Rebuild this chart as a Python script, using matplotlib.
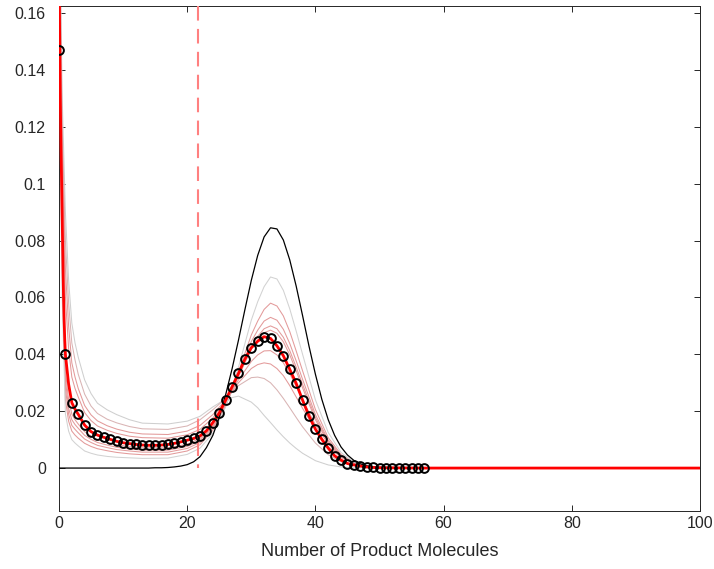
import matplotlib
matplotlib.use("Agg")
import matplotlib.pyplot as plt

# ---------------- data ----------------
# observed distribution (black circles) at integer molecule counts 0..57
obs_x = list(range(0, 58))
obs_y = [0.147, 0.0400, 0.0230, 0.0189, 0.0151, 0.0128, 0.0116, 0.0108, 0.0101, 0.0094,
         0.0089, 0.0086, 0.0083, 0.0081, 0.0080, 0.0080, 0.0081, 0.0083, 0.0087, 0.0092,
         0.0098, 0.0104, 0.0113, 0.0131, 0.0160, 0.0194, 0.0239, 0.0286, 0.0333, 0.0383,
         0.0423, 0.0446, 0.0462, 0.0456, 0.0430, 0.0395, 0.0347, 0.0298, 0.0239, 0.0183,
         0.0137, 0.0101, 0.0070, 0.0043, 0.0028, 0.0016, 0.0011, 0.0007, 0.0004, 0.0002,
         0.0001, 0.0, 0.0, 0.0, 0.0, 0.0, 0.0, 0.0]

# final fit (thick red line)
fit_x = [0, 0.05, 0.1, 0.2, 0.3, 0.4, 0.5, 0.6, 0.7, 0.8, 0.9, 1, 1.5, 2, 2.5, 3, 4, 5, 6, 7, 8, 9,
         10, 11, 12, 13, 14, 15, 16, 17, 18, 19, 20, 21, 22, 23, 24, 25, 26, 27, 28, 29, 30,
         31, 32, 33, 34, 35, 36, 37, 38, 39, 40, 41, 42, 43, 44, 45, 46, 47, 48, 49, 50, 57, 100]
fit_y = [0.200, 0.170, 0.152, 0.130, 0.114, 0.101, 0.088, 0.074, 0.061, 0.052, 0.045, 0.0400,
         0.0295, 0.0230, 0.0207, 0.0189, 0.0151, 0.0128, 0.0116, 0.0108, 0.0101, 0.0094,
         0.0089, 0.0086, 0.0083, 0.0081, 0.0080, 0.0080, 0.0081, 0.0083, 0.0087, 0.0092,
         0.0098, 0.0104, 0.0113, 0.0131, 0.0160, 0.0194, 0.0239, 0.0286, 0.0333, 0.0383,
         0.0423, 0.0446, 0.0462, 0.0456, 0.0430, 0.0395, 0.0347, 0.0298, 0.0239, 0.0183,
         0.0137, 0.0101, 0.0070, 0.0043, 0.0028, 0.0016, 0.0011, 0.0007, 0.0004, 0.0002,
         0.0001, 0.0, 0.0]

# initial guess (thin black line)
init_x = [0, 14, 15, 16, 17, 18, 19, 20, 21, 22, 23, 24, 25, 26, 27, 28, 29, 30, 31, 32, 33,
          34, 35, 36, 37, 38, 39, 40, 41, 42, 43, 44, 45, 46, 47, 48, 49, 50, 51, 57]
init_y = [0.0, 0.0, 0.0001, 0.0001, 0.0002, 0.0004, 0.0007, 0.0012, 0.0022, 0.0040, 0.0072,
          0.0115, 0.0178, 0.0258, 0.0349, 0.0450, 0.0557, 0.0660, 0.0748, 0.0813, 0.0845,
          0.0841, 0.0802, 0.0732, 0.0640, 0.0536, 0.0429, 0.0330, 0.0242, 0.0170, 0.0115,
          0.0074, 0.0046, 0.0027, 0.0015, 0.0008, 0.0004, 0.0002, 0.0001, 0.0]

# intermediate iterations (thin lines)
iter_x = [0, 0.25, 0.5, 1, 1.5, 2, 2.5, 3, 4, 5, 6, 7.5, 9, 11, 13, 17, 20, 22, 24, 26, 28,
          30, 31, 32, 33, 34, 35, 36, 37, 38, 40, 42, 44, 46, 49, 57]
iter_a = [0.30, 0.170, 0.130, 0.090, 0.066, 0.051, 0.044, 0.039, 0.031, 0.0262, 0.0228,
          0.0205, 0.0188, 0.0170, 0.0158, 0.0155, 0.0165, 0.0182, 0.0215, 0.0243, 0.0253,
          0.0232, 0.0212, 0.0185, 0.0160, 0.0134, 0.0110, 0.0088, 0.0069, 0.0052, 0.0026,
          0.0011, 0.0004, 0.0001, 0.0, 0.0]
iter_b = [0.30, 0.160, 0.120, 0.080, 0.058, 0.044, 0.038, 0.033, 0.026, 0.0218, 0.0192,
          0.0172, 0.0159, 0.0146, 0.0138, 0.0136, 0.0148, 0.0170, 0.0205, 0.0245, 0.0290,
          0.0318, 0.0320, 0.0315, 0.0300, 0.0275, 0.0245, 0.0212, 0.0178, 0.0145, 0.0088,
          0.0047, 0.0022, 0.0009, 0.0002, 0.0]
iter_c = [0.30, 0.155, 0.115, 0.070, 0.050, 0.037, 0.032, 0.028, 0.022, 0.0187, 0.0166,
          0.0149, 0.0137, 0.0126, 0.0120, 0.0118, 0.0130, 0.0150, 0.0188, 0.0240, 0.0300,
          0.0350, 0.0364, 0.0370, 0.0366, 0.0350, 0.0325, 0.0290, 0.0250, 0.0210, 0.0135,
          0.0075, 0.0037, 0.0016, 0.0004, 0.0]
iter_d = [0.30, 0.150, 0.110, 0.060, 0.042, 0.032, 0.028, 0.025, 0.0195, 0.0167, 0.0148,
          0.0133, 0.0122, 0.0112, 0.0107, 0.0105, 0.0117, 0.0136, 0.0176, 0.0238, 0.0310,
          0.0375, 0.0398, 0.0412, 0.0413, 0.0398, 0.0370, 0.0332, 0.0287, 0.0240, 0.0152,
          0.0085, 0.0041, 0.0017, 0.0004, 0.0]
iter_e = [0.30, 0.130, 0.090, 0.034, 0.024, 0.019, 0.017, 0.0155, 0.0128, 0.0112, 0.0100,
          0.0090, 0.0082, 0.0075, 0.0071, 0.0071, 0.0084, 0.0104, 0.0150, 0.0225, 0.0322,
          0.0418, 0.0450, 0.0476, 0.0485, 0.0474, 0.0444, 0.0398, 0.0342, 0.0282, 0.0170,
          0.0088, 0.0040, 0.0015, 0.0003, 0.0]
iter_f = [0.30, 0.125, 0.085, 0.031, 0.021, 0.017, 0.0153, 0.0140, 0.0115, 0.0101, 0.0090,
          0.0081, 0.0073, 0.0067, 0.0063, 0.0063, 0.0076, 0.0097, 0.0145, 0.0222, 0.0325,
          0.0428, 0.0463, 0.0490, 0.0500, 0.0490, 0.0460, 0.0413, 0.0355, 0.0294, 0.0178,
          0.0093, 0.0042, 0.0016, 0.0003, 0.0]
iter_g = [0.30, 0.120, 0.080, 0.028, 0.019, 0.015, 0.0136, 0.0124, 0.0102, 0.0090, 0.0080,
          0.0072, 0.0065, 0.0060, 0.0056, 0.0056, 0.0069, 0.0090, 0.0140, 0.0220, 0.0330,
          0.0445, 0.0485, 0.0517, 0.0530, 0.0520, 0.0488, 0.0438, 0.0377, 0.0312, 0.0188,
          0.0098, 0.0044, 0.0017, 0.0003, 0.0]
iter_h = [0.30, 0.110, 0.070, 0.024, 0.0165, 0.013, 0.0116, 0.0105, 0.0087, 0.0076, 0.0068,
          0.0061, 0.0055, 0.0050, 0.0047, 0.0047, 0.0060, 0.0082, 0.0133, 0.0218, 0.0338,
          0.0468, 0.0517, 0.0558, 0.0580, 0.0570, 0.0535, 0.0480, 0.0412, 0.0342, 0.0206,
          0.0107, 0.0048, 0.0018, 0.0003, 0.0]
iter_i = [0.30, 0.100, 0.060, 0.019, 0.013, 0.010, 0.0088, 0.0078, 0.0060, 0.0052, 0.0046,
          0.0041, 0.0038, 0.0036, 0.0034, 0.0035, 0.0048, 0.0070, 0.0122, 0.0215, 0.0355,
          0.0520, 0.0585, 0.0638, 0.0672, 0.0665, 0.0625, 0.0560, 0.0482, 0.0400, 0.0240,
          0.0125, 0.0055, 0.0021, 0.0004, 0.0]
iter_series = [iter_a, iter_b, iter_c, iter_d, iter_e, iter_f, iter_g, iter_h, iter_i]
iter_colors = ["#cfcfcf", "#d9b4b4", "#e39a9a", "#e39a9a", "#e39a9a", "#e39a9a",
               "#e39a9a", "#e39a9a", "#d2d2d2"]

threshold_x = 21.7

x_ticks = [0, 20, 40, 60, 80, 100]
y_ticks = [0, 0.02, 0.04, 0.06, 0.08, 0.1, 0.12, 0.14, 0.16]
y_tick_labels = ["0", "0.02", "0.04", "0.06", "0.08", "0.1", "0.12", "0.14", "0.16"]
x_label = "Number of Product Molecules"

# ---------------- plot ----------------
plt.rcParams["font.family"] = ["Liberation Sans", "DejaVu Sans"]
plt.rcParams["lines.scale_dashes"] = False
txt = "#262626"

fig = plt.figure(figsize=(7.14, 5.69), dpi=100)
ax = fig.add_axes([59 / 714, 1 - 511 / 569, 641 / 714, 505 / 569])

for ys, c in zip(iter_series, iter_colors):
    ax.plot(iter_x, ys, color=c, lw=0.75, zorder=2)

ax.plot(init_x, init_y, color="black", lw=0.9, zorder=3)

ax.plot([threshold_x, threshold_x], [0.1625, 0], color="#ff8080", lw=1.5,
        dashes=(10.5, 6.0), zorder=4)

ax.plot(fit_x, fit_y, color="red", lw=2.0, zorder=5)

ax.plot(obs_x, obs_y, linestyle="none", marker="o", ms=6.3, mfc="none",
        mec="black", mew=1.4, zorder=6)

ax.set_xlim(0, 100)
ax.set_ylim(-0.0151, 0.1625)
ax.set_xticks(x_ticks)
ax.set_xticklabels([str(t) for t in x_ticks])
ax.set_yticks(y_ticks)
ax.set_yticklabels(y_tick_labels)
ax.tick_params(direction="in", length=4, width=0.7, colors=txt, labelsize=11.5,
               top=True, right=True)
ax.tick_params(axis="y", pad=9.5)
ax.tick_params(axis="x", pad=3.5)
for s in ax.spines.values():
    s.set_color(txt)
    s.set_linewidth(0.7)
ax.set_xlabel(x_label, fontsize=13, color=txt, labelpad=9)

fig.savefig("out.png", dpi=100)
